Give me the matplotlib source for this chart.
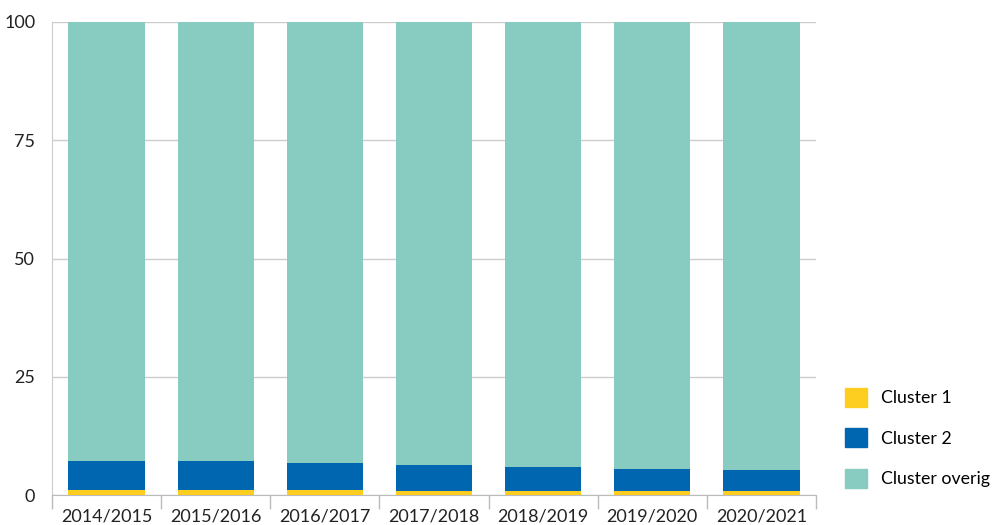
import numpy as np
import matplotlib.pyplot as plt
from matplotlib.patches import Patch

plt.rcParams['font.family'] = ['Lato', 'DejaVu Sans']

jaren = ['2014/2015', '2015/2016', '2016/2017', '2017/2018',
         '2018/2019', '2019/2020', '2020/2021']
cluster1 = [1.1, 1.1, 1.1, 0.9, 0.9, 0.9, 0.9]
cluster2 = [6.1, 6.1, 5.7, 5.4, 5.0, 4.6, 4.4]
overig = [100 - a - b for a, b in zip(cluster1, cluster2)]

geel = '#FDCD1F'
blauw = '#0066B0'
groen = '#88CBC0'

fig = plt.figure(figsize=(9.97, 5.25), dpi=100)
ax = fig.add_axes([52 / 997, 30 / 525, 764 / 997, 473 / 525])

x = np.arange(len(jaren))
w = 0.7
ax.bar(x, cluster1, w, color=geel, zorder=3)
ax.bar(x, cluster2, w, bottom=cluster1, color=blauw, zorder=3)
ax.bar(x, overig, w, bottom=np.add(cluster1, cluster2), color=groen, zorder=3)

ax.set_xlim(-0.5, len(jaren) - 0.5)
ax.set_ylim(0, 100)
ax.set_yticks([0, 25, 50, 75, 100])
ax.yaxis.grid(True, color='#cccccc', linewidth=1, zorder=0)
ax.tick_params(axis='y', length=0, pad=12, labelsize=13, colors='#222222')

ax.set_xticks(x)
ax.set_xticklabels(jaren)
ax.set_xticks(np.arange(-0.5, len(jaren)), minor=True)
ax.tick_params(axis='x', which='major', length=0, pad=10, labelsize=13, colors='#222222')
ax.tick_params(axis='x', which='minor', length=10, color='#bbbbbb', width=1)

for s in ['top', 'right']:
    ax.spines[s].set_visible(False)
ax.spines['left'].set_color('#cccccc')
ax.spines['bottom'].set_color('#bbbbbb')

handles = [Patch(color=geel, label='Cluster 1'),
           Patch(color=blauw, label='Cluster 2'),
           Patch(color=groen, label='Cluster overig')]
fig.legend(handles=handles, loc='upper left', bbox_to_anchor=(829 / 997, 1 - 372 / 525),
           frameon=False, fontsize=12.8, handlelength=1.25, handleheight=1.25,
           labelspacing=1.22, handletextpad=0.75)

fig.savefig('out.png', dpi=100)
